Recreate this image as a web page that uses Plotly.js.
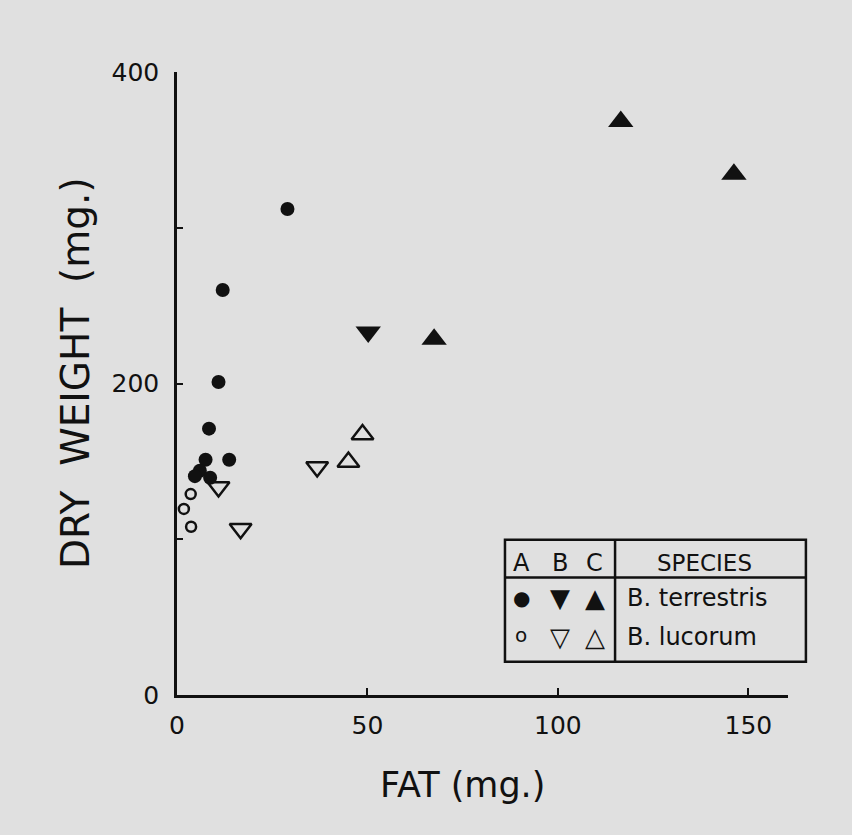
<!DOCTYPE html>
<html>
<head>
<meta charset="utf-8">
<script src="https://cdn.plot.ly/plotly-3.0.1.min.js"></script>
<style>html,body{margin:0;padding:0;background:#e0e0e0;}</style>
</head>
<body>
<div id="chart" style="width:852px;height:835px;"></div>
<script>
// Group A (circles)
const terrestrisA_x = [29, 12, 10.9, 8.4, 13.7, 7.5, 6, 4.7, 8.7];
const terrestrisA_y = [312, 260, 201, 171, 151, 151, 144, 140.5, 139.5];
const lucorumA_x = [3.6, 1.8, 3.7];
const lucorumA_y = [129, 119.5, 108];
// Group B (down triangles)
const terrestrisB_x = [50.2];
const terrestrisB_y = [233];
const lucorumB_x = [10.9, 16.7, 36.8];
const lucorumB_y = [133.5, 106.7, 146.4];
// Group C (up triangles)
const terrestrisC_x = [67.5, 116.5, 146.2];
const terrestrisC_y = [228.4, 368.2, 334.3];
const lucorumC_x = [45, 48.7];
const lucorumC_y = [149.6, 167.2];

const xTicks = [0, 50, 100, 150];
const yTicks = [0, 100, 200, 300, 400];
const yTickText = ['0', '', '200', '', '400'];
const xTitle = 'FAT (mg.)';
const yTitle = 'DRY\u00a0\u00a0WEIGHT\u00a0\u00a0(mg.)';

const XMAX = 160.4, YMAX = 400;
const ink = '#111111';
const FONT = 'DejaVu Sans, sans-serif';

function tr(x, y, symbol, size, name, open) {
  return {
    type: 'scatter', mode: 'markers', x: x, y: y, name: name,
    cliponaxis: false,
    marker: {symbol: symbol, size: size, color: ink,
             line: {color: ink, width: open ? 2.5 : 0}}
  };
}

const data = [
  tr(terrestrisA_x, terrestrisA_y, 'circle', 14, 'A B. terrestris', false),
  tr(lucorumA_x, lucorumA_y, 'circle-open', 10, 'A B. lucorum', true),
  tr(terrestrisB_x, terrestrisB_y, 'triangle-down', 22, 'B B. terrestris', false),
  tr(lucorumB_x, lucorumB_y, 'triangle-down-open', 19, 'B B. lucorum', true),
  tr(terrestrisC_x, terrestrisC_y, 'triangle-up', 22, 'C B. terrestris', false),
  tr(lucorumC_x, lucorumC_y, 'triangle-up-open', 19, 'C B. lucorum', true)
];

// legend table, placed in axis units and converted to paper fractions
const box = {x0: 86.1, x1: 165.1, y0: 21.4, y1: 99.7, xdiv: 115, ydiv: 75.5};
const px = v => v / XMAX, py = v => v / YMAX;
const lw = 2.5;
const shapes = [
  {type: 'rect', xref: 'paper', yref: 'paper', x0: px(box.x0), x1: px(box.x1), y0: py(box.y0), y1: py(box.y1),
   line: {color: ink, width: lw}, fillcolor: 'rgba(0,0,0,0)'},
  {type: 'line', xref: 'paper', yref: 'paper', x0: px(box.xdiv), x1: px(box.xdiv), y0: py(box.y0), y1: py(box.y1),
   line: {color: ink, width: lw}},
  {type: 'line', xref: 'paper', yref: 'paper', x0: px(box.x0), x1: px(box.x1), y0: py(box.ydiv), y1: py(box.ydiv),
   line: {color: ink, width: lw}}
];

function ann(text, x, y, size, xanchor) {
  return {text: text, x: px(x), y: py(y), xref: 'paper', yref: 'paper', showarrow: false,
          xanchor: xanchor || 'center', yanchor: 'middle',
          font: {family: FONT, size: size, color: ink}};
}
const rowH = 85, row1 = 62.4, row2 = 37.5;
const colA = 90.4, colB = 100.5, colC = 109.7;
const annotations = [
  ann('A', colA, rowH, 24), ann('B', colB, rowH, 24), ann('C', colC, rowH, 24),
  ann('SPECIES', 138.6, rowH, 23),
  ann('\u25CF', colA, row1, 20), ann('\u25BC', colB, row1, 26), ann('\u25B2', colC, row1, 26),
  ann('o', colA, row2 + 1, 20), ann('\u25BD', colB, row2, 26), ann('\u25B3', colC, row2, 26),
  ann('B. terrestris', 117.6, row1, 24, 'left'),
  ann('B. lucorum', 117.6, row2, 24, 'left'),
  {text: xTitle, x: 0.468, y: -0.1445, xref: 'paper', yref: 'paper', showarrow: false,
   xanchor: 'center', yanchor: 'middle', font: {family: FONT, size: 35, color: ink}},
  {text: yTitle, x: -0.165, y: 0.517, xref: 'paper', yref: 'paper', showarrow: false, textangle: -90,
   xanchor: 'center', yanchor: 'middle', font: {family: FONT, size: 39, color: ink}}
];

const layout = {
  width: 852, height: 835,
  margin: {l: 177, r: 64, t: 72, b: 140},
  paper_bgcolor: '#e0e0e0', plot_bgcolor: '#e0e0e0',
  showlegend: false,
  font: {family: FONT, color: ink},
  xaxis: {
    range: [0, XMAX], tickvals: xTicks, ticktext: xTicks.map(String),
    ticks: 'inside', ticklen: 7, tickwidth: 2, tickcolor: ink,
    showline: true, linecolor: ink, linewidth: 2.5, showgrid: false, zeroline: false,
    tickfont: {family: FONT, size: 25, color: ink}, ticklabelstandoff: 6
  },
  yaxis: {
    range: [0, YMAX], tickvals: yTicks, ticktext: yTickText,
    ticks: 'inside', ticklen: 6, tickwidth: 2, tickcolor: ink,
    showline: true, linecolor: ink, linewidth: 2.5, showgrid: false, zeroline: false,
    tickfont: {family: FONT, size: 25, color: ink}, ticklabelstandoff: 10
  },
  shapes: shapes,
  annotations: annotations
};

Plotly.newPlot('chart', data, layout, {displayModeBar: false});
</script>
</body>
</html>
